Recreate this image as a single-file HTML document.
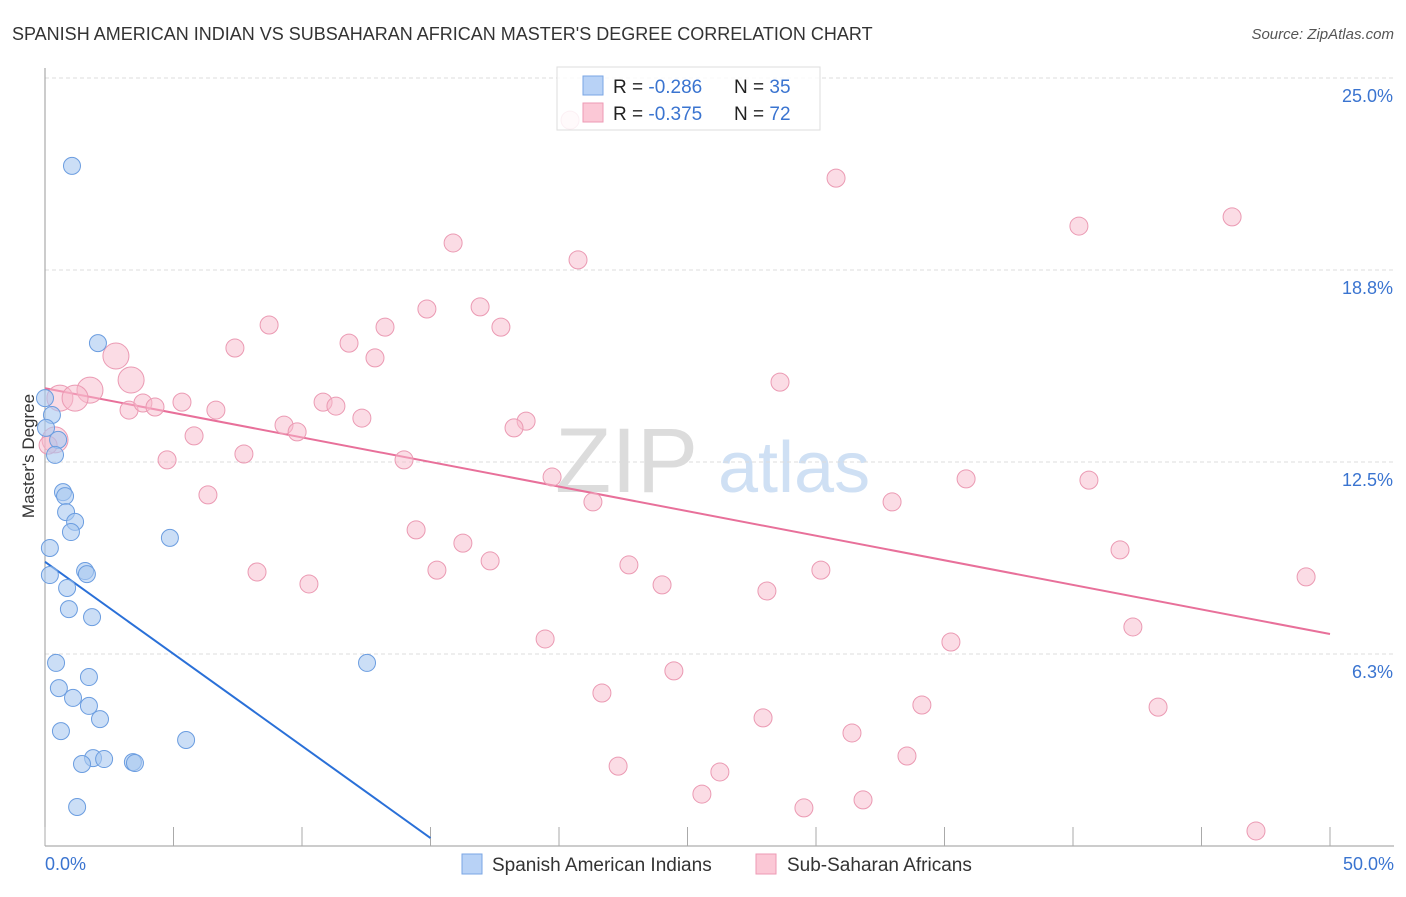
<!DOCTYPE html>
<html><head><meta charset="utf-8"><style>
body{margin:0;background:#fff;font-family:"Liberation Sans",sans-serif}
svg text{font-family:"Liberation Sans",sans-serif}
</style></head><body>
<svg id="chart" width="1406" height="892" xmlns="http://www.w3.org/2000/svg">
<text x="12" y="40" font-size="18" fill="#333">SPANISH AMERICAN INDIAN VS SUBSAHARAN AFRICAN MASTER'S DEGREE CORRELATION CHART</text>
<text x="1394" y="39" font-size="15" fill="#555" text-anchor="end" font-style="italic">Source: ZipAtlas.com</text>
<g>
<text x="555" y="492" font-size="92" fill="#dcdcdc" font-family="Liberation Serif,serif">ZIP</text>
<text x="718" y="492" font-size="72" fill="#cfe0f4">atlas</text>
</g>
<g id="grid"></g>
<g id="axes"></g>
<g id="lines"></g>
<g id="pts"></g>
<text transform="translate(34,456) rotate(-90)" font-size="17" fill="#333" text-anchor="middle">Master's Degree</text>
<g>
<rect x="557" y="67" width="263" height="63" fill="#fff" fill-opacity="0.85" stroke="#ddd"/>
<rect x="583" y="76" width="20" height="19" fill="#b8d2f6" stroke="#7aa6e4"/>
<rect x="583" y="103" width="20" height="19" fill="#fbc8d6" stroke="#ee9ab4"/>
<text x="613" y="93" font-size="19" fill="#222">R = <tspan fill="#3a74d0">-0.286</tspan></text>
<text x="734" y="93" font-size="19" fill="#222">N = <tspan fill="#3a74d0">35</tspan></text>
<text x="613" y="120" font-size="19" fill="#222">R = <tspan fill="#3a74d0">-0.375</tspan></text>
<text x="734" y="120" font-size="19" fill="#222">N = <tspan fill="#3a74d0">72</tspan></text>
</g>
<g>
<rect x="462" y="854" width="20" height="20" fill="#b8d2f6" stroke="#7aa6e4"/>
<text x="492" y="871" font-size="19" fill="#333">Spanish American Indians</text>
<rect x="756" y="854" width="20" height="20" fill="#fbc8d6" stroke="#ee9ab4"/>
<text x="787" y="871" font-size="19" fill="#333">Sub-Saharan Africans</text>
</g>
</svg>
<script>
const yTicks=[25.0,18.8,12.5,6.3];
const yTickVals=[25,18.75,12.5,6.25];
const xTickVals=[0,5,10,15,20,25,30,35,40,45,50];
const blueX=[1.05,2.06,0.27,0.51,0.39,0.70,0.78,0.82,1.17,1.01,0.19,4.86,0.19,1.56,1.63,0.86,0.93,1.83,0.43,12.53,0.54,1.71,1.09,1.71,2.14,0.62,5.49,1.87,2.30,1.44,3.42,3.50,1.25,0.0,0.04];
const blueY=[22.14,16.37,14.03,13.22,12.73,11.52,11.39,10.87,10.55,10.22,9.70,10.03,8.82,8.95,8.85,8.40,7.71,7.45,5.96,5.96,5.14,5.50,4.82,4.56,4.13,3.74,3.45,2.86,2.83,2.67,2.73,2.70,1.27,14.58,13.61];
const pinkX=[20.43,30.78,40.23,46.19,15.88,20.74,8.72,14.86,16.93,13.23,17.74,7.39,11.83,12.84,2.76,3.35,1.75,0.58,1.17,28.60,3.27,3.81,4.28,5.33,6.65,10.82,11.32,12.33,9.30,9.81,5.80,18.72,18.25,7.74,4.75,13.97,19.73,35.84,40.62,21.32,32.96,6.34,14.44,16.26,41.83,17.32,15.25,22.72,8.25,10.27,24.01,30.19,28.09,49.07,42.33,19.46,35.25,24.47,21.67,34.12,43.31,27.94,31.40,33.54,22.30,26.26,25.56,31.83,29.53,47.12,0.39,0.12];
const pinkY=[23.63,21.74,20.18,20.48,19.63,19.08,16.96,17.48,17.55,16.89,16.89,16.21,16.37,15.89,15.95,15.17,14.84,14.58,14.58,15.10,14.19,14.42,14.29,14.45,14.19,14.45,14.32,13.93,13.70,13.48,13.35,13.83,13.61,12.76,12.57,12.57,12.01,11.95,11.91,11.20,11.20,11.43,10.29,9.86,9.64,9.28,8.98,9.15,8.92,8.53,8.50,8.98,8.30,8.76,7.13,6.74,6.64,5.70,4.98,4.59,4.52,4.17,3.68,2.93,2.60,2.41,1.69,1.50,1.24,0.49,13.22,13.05];
const pinkBig=[14,15,16,17,18,70];
const blueTrend=[[0,9.25],[15,0.26]];
const pinkTrend=[[0,14.9],[50,6.9]];
const X=v=>45+v*25.7, Y=v=>846-v*30.72;
const NS='http://www.w3.org/2000/svg';
function mk(t,a,p){const e=document.createElementNS(NS,t);for(const k in a)e.setAttribute(k,a[k]);p.appendChild(e);return e;}
const grid=document.getElementById('grid'),axes=document.getElementById('axes');
yTickVals.forEach((v,i)=>{
 const l=mk('line',{x1:45,x2:1394,y1:Y(v),y2:Y(v),stroke:'#ddd','stroke-dasharray':'4,3'},grid);
 
 
 const t=mk('text',{x:1393,y:Y(v)+24,'font-size':18,fill:'#3a74d0','text-anchor':'end'},axes);
 t.textContent=yTicks[i].toFixed(1)+'%';
 
 
});
const ya=mk('line',{x1:45,x2:45,y1:68,y2:846,stroke:'#999'},axes);


const xa=mk('line',{x1:45,x2:1394,y1:846,y2:846,stroke:'#999'},axes);


xTickVals.forEach(v=>{const t=mk('line',{x1:X(v),x2:X(v),y1:827,y2:846,stroke:'#aaa'},axes);
 
 });
[[0,'0.0%','start',45],[50,'50.0%','end',1394]].forEach(d=>{const t=mk('text',{x:d[3],y:870,'font-size':18,fill:'#3a74d0','text-anchor':d[2]},axes);t.textContent=d[1];
 
 });
const pts=document.getElementById('pts');
pinkX.forEach((x,i)=>{const c=mk('circle',{cx:X(x),cy:Y(pinkY[i]),r:pinkBig.includes(i)?13:9,fill:'#f7b9cc','fill-opacity':0.5,stroke:'#eb9ab3','stroke-width':1},pts);
 
 });
blueX.forEach((x,i)=>{const c=mk('circle',{cx:X(x),cy:Y(blueY[i]),r:8.5,fill:'#a9c8f0','fill-opacity':0.6,stroke:'#6b9de0','stroke-width':1},pts);
 
 });
const lines=document.getElementById('lines');
const bl=mk('line',{x1:X(blueTrend[0][0]),y1:Y(blueTrend[0][1]),x2:X(blueTrend[1][0]),y2:Y(blueTrend[1][1]),stroke:'#2a70d8','stroke-width':2},lines);


const pl=mk('line',{x1:X(pinkTrend[0][0]),y1:Y(pinkTrend[0][1]),x2:X(pinkTrend[1][0]),y2:Y(pinkTrend[1][1]),stroke:'#e8709a','stroke-width':2},lines);


</script>
</body></html>
